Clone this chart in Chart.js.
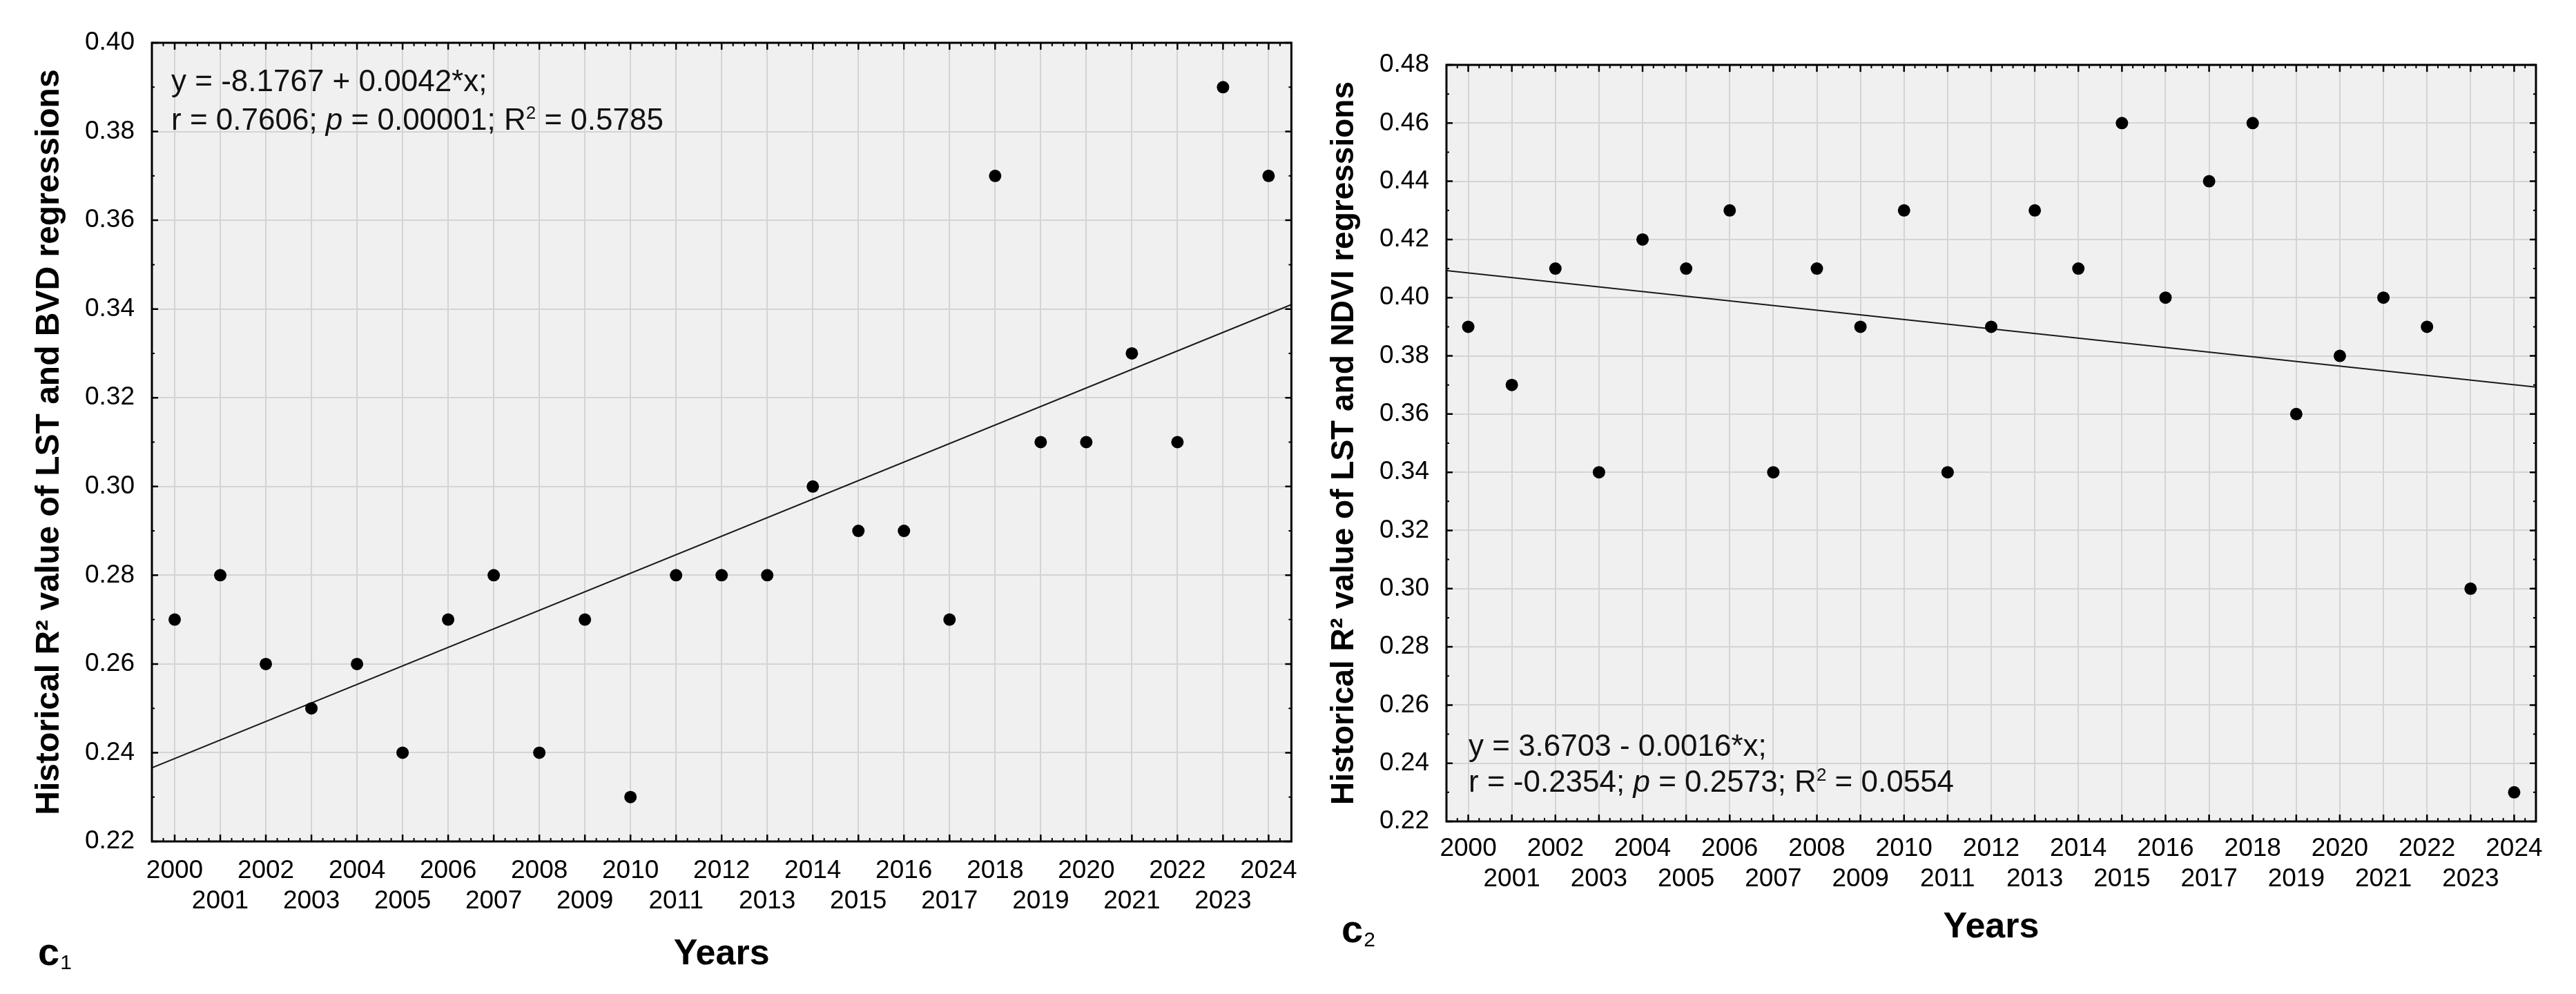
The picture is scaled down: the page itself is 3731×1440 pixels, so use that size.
<!DOCTYPE html>
<html>
<head>
<meta charset="utf-8">
<script src="https://cdn.jsdelivr.net/npm/chart.js@4.4.1/dist/chart.umd.min.js"></script>
<style>
  html, body { margin: 0; padding: 0; background: #fff; }
  body { width: 3731px; height: 1440px; position: relative; overflow: hidden; }
  .panel { position: absolute; top: 0; height: 1440px; }
  #panelLeft { left: 0; width: 1900px; }
  #panelRight { left: 1900px; width: 1831px; }
</style>
</head>
<body>
<div class="panel" id="panelLeft"><canvas id="chartBvd"></canvas></div>
<div class="panel" id="panelRight"><canvas id="chartNdvi"></canvas></div>
<script>
const years = [2000, 2001, 2002, 2003, 2004, 2005, 2006, 2007, 2008, 2009, 2010, 2011, 2012,
  2013, 2014, 2015, 2016, 2017, 2018, 2019, 2020, 2021, 2022, 2023, 2024];

// historical R² of LST ~ BVD regressions (panel c1)
const bvdR2 = [0.27, 0.28, 0.26, 0.25, 0.26, 0.24, 0.27, 0.28, 0.24, 0.27, 0.23, 0.28, 0.28,
  0.28, 0.30, 0.29, 0.29, 0.27, 0.37, 0.31, 0.31, 0.33, 0.31, 0.39, 0.37];

// historical R² of LST ~ NDVI regressions (panel c2)
const ndviR2 = [0.39, 0.37, 0.41, 0.34, 0.42, 0.41, 0.43, 0.34, 0.41, 0.39, 0.43, 0.34, 0.39,
  0.43, 0.41, 0.46, 0.40, 0.44, 0.46, 0.36, 0.38, 0.40, 0.39, 0.30, 0.23];

// fitted lines, ends read at the plot edges
const trendX = [1999.5, 2024.5];
const bvdTrend = [0.2366, 0.3410];
const ndviTrend = [0.4093, 0.3693];

const bvdYTicks = [0.22, 0.24, 0.26, 0.28, 0.30, 0.32, 0.34, 0.36, 0.38, 0.40];
const ndviYTicks = [0.22, 0.24, 0.26, 0.28, 0.30, 0.32, 0.34, 0.36, 0.38, 0.40, 0.42, 0.44, 0.46, 0.48];

const FONT = "'Liberation Sans', Arial, Helvetica, sans-serif";

function drawRich(ctx, parts, x, y, size) {
  let cx = x;
  parts.forEach((p) => {
    const s = p.sup ? Math.round(size * 0.6) : size;
    ctx.font = `${p.italic ? "italic " : ""}${s}px ${FONT}`;
    ctx.fillText(p.t, cx, p.sup ? y - size * 0.36 : y);
    cx += ctx.measureText(p.t).width;
  });
}

function panelDecor(decor) {
  return {
    id: "panelDecor",
    beforeDraw(chart) {
      const { ctx, chartArea: a } = chart;
      ctx.save();
      ctx.fillStyle = "#f0f0f0";
      ctx.fillRect(a.left, a.top, a.right - a.left, a.bottom - a.top);
      ctx.restore();
    },
    afterDraw(chart) {
      const { ctx, chartArea: a } = chart;
      const xs = chart.scales.x;
      const ys = chart.scales.y;
      ctx.save();
      ctx.strokeStyle = "#000";

      // inner tick marks on all four sides
      const mark = (len, w, list, horiz) => {
        ctx.lineWidth = w;
        ctx.beginPath();
        list.forEach((px) => {
          if (horiz) {
            ctx.moveTo(px, a.bottom); ctx.lineTo(px, a.bottom - len);
            ctx.moveTo(px, a.top); ctx.lineTo(px, a.top + len);
          } else {
            ctx.moveTo(a.left, px); ctx.lineTo(a.left + len, px);
            ctx.moveTo(a.right, px); ctx.lineTo(a.right - len, px);
          }
        });
        ctx.stroke();
      };
      const minorX = [];
      for (let yr = 1999; yr <= 2024; yr++) {
        [0.25, 0.5, 0.75].forEach((q) => {
          const v = yr + q;
          if (v > xs.min && v < xs.max) minorX.push(xs.getPixelForValue(v));
        });
      }
      const minorY = [];
      decor.yTicks.slice(0, -1).forEach((v) => minorY.push(ys.getPixelForValue(v + 0.01)));
      mark(5, 2, minorX, true);
      mark(4, 2, minorY, false);
      mark(10, 2.5, years.map((v) => xs.getPixelForValue(v)), true);
      mark(9, 2.5, decor.yTicks.map((v) => ys.getPixelForValue(v)), false);

      ctx.lineWidth = 3;
      ctx.strokeRect(a.left, a.top, a.right - a.left, a.bottom - a.top);

      // regression note
      ctx.fillStyle = "#111";
      ctx.textBaseline = "alphabetic";
      ctx.textAlign = "left";
      decor.note.forEach((line, i) => {
        drawRich(ctx, line, a.left + decor.noteDx, decor.noteY[i], 44);
      });

      // panel label
      ctx.fillStyle = "#000";
      ctx.font = `bold 56px ${FONT}`;
      ctx.fillText("c", decor.labelX, decor.labelY);
      const w = ctx.measureText("c").width;
      ctx.font = `30px ${FONT}`;
      ctx.fillText(decor.labelSub, decor.labelX + w + 1, decor.labelY + 6);
      ctx.restore();
    },
  };
}

function makeChart(canvasId, cfg) {
  const last = cfg.yTicks.length - 1;
  return new Chart(document.getElementById(canvasId), {
    type: "scatter",
    data: {
      datasets: [
        {
          data: years.map((yr, i) => ({ x: yr, y: cfg.values[i] })),
          pointRadius: 9,
          pointBackgroundColor: "#000",
          pointBorderWidth: 0,
          showLine: false,
        },
        {
          data: trendX.map((x, i) => ({ x, y: cfg.trend[i] })),
          showLine: true,
          borderColor: "#1a1a1a",
          borderWidth: 2,
          pointRadius: 0,
        },
      ],
    },
    options: {
      responsive: true,
      maintainAspectRatio: false,
      devicePixelRatio: 1,
      animation: false,
      layout: { padding: cfg.padding },
      plugins: { legend: { display: false }, tooltip: { enabled: false } },
      scales: {
        x: {
          type: "linear",
          min: 1999.5,
          max: 2024.5,
          afterBuildTicks: (s) => { s.ticks = years.map((v) => ({ value: v })); },
          afterFit: (s) => { s.height = cfg.xAxisHeight; },
          grid: { color: "#d4d4d4", lineWidth: 2, drawTicks: false },
          border: { display: false },
          ticks: {
            autoSkip: false,
            maxRotation: 0,
            minRotation: 0,
            padding: cfg.xTickPad,
            color: "#000",
            font: { family: FONT, size: 37, lineHeight: 1.19 },
            callback: (v) => (v % 2 === 0 ? String(v) : ["", String(v)]),
          },
          title: {
            display: true,
            text: "Years",
            color: "#000",
            font: { family: FONT, size: 52, weight: "bold" },
            padding: { top: 0, bottom: cfg.xTitlePad },
          },
        },
        y: {
          min: cfg.yTicks[0],
          max: cfg.yTicks[last],
          afterBuildTicks: (s) => { s.ticks = cfg.yTicks.map((v) => ({ value: v })); },
          afterFit: (s) => { s.width = cfg.yAxisWidth; },
          grid: { color: "#d4d4d4", lineWidth: 2, drawTicks: false },
          border: { display: false },
          ticks: {
            padding: 25,
            color: "#000",
            font: { family: FONT, size: 37 },
            callback: (v) => Number(v).toFixed(2),
          },
          title: {
            display: true,
            text: cfg.yTitle,
            color: "#000",
            font: { family: FONT, size: cfg.yTitleSize, weight: "bold" },
            padding: { top: cfg.yTitlePad, bottom: 0 },
          },
        },
      },
    },
    plugins: [panelDecor(cfg)],
  });
}

makeChart("chartBvd", {
  values: bvdR2,
  trend: bvdTrend,
  yTicks: bvdYTicks,
  yTitle: "Historical R² value of LST and BVD regressions",
  yTitleSize: 48,
  yTitlePad: 43,
  yAxisWidth: 220,
  xAxisHeight: 221,
  xTickPad: 21,
  xTitlePad: 26,
  padding: { top: 62, right: 22, bottom: 0, left: 0 },
  note: [
    [{ t: "y = -8.1767 + 0.0042*x;" }],
    [{ t: "r = 0.7606; " }, { t: "p", italic: true }, { t: " = 0.00001; R" }, { t: "2", sup: true }, { t: " = 0.5785" }],
  ],
  noteDx: 28,
  noteY: [132, 188],
  labelX: 55,
  labelY: 1398,
  labelSub: "1",
});

makeChart("chartNdvi", {
  values: ndviR2,
  trend: ndviTrend,
  yTicks: ndviYTicks,
  yTitle: "Historical R² value of LST and NDVI regressions",
  yTitleSize: 46,
  yTitlePad: 20,
  yAxisWidth: 195,
  xAxisHeight: 250,
  xTickPad: 18,
  xTitlePad: 65,
  padding: { top: 94, right: 58, bottom: 0, left: 0 },
  note: [
    [{ t: "y = 3.6703 - 0.0016*x;" }],
    [{ t: "r = -0.2354; " }, { t: "p", italic: true }, { t: " = 0.2573; R" }, { t: "2", sup: true }, { t: " = 0.0554" }],
  ],
  noteDx: 32,
  noteY: [1095, 1147],
  labelX: 43,
  labelY: 1365,
  labelSub: "2",
});
</script>
</body>
</html>
